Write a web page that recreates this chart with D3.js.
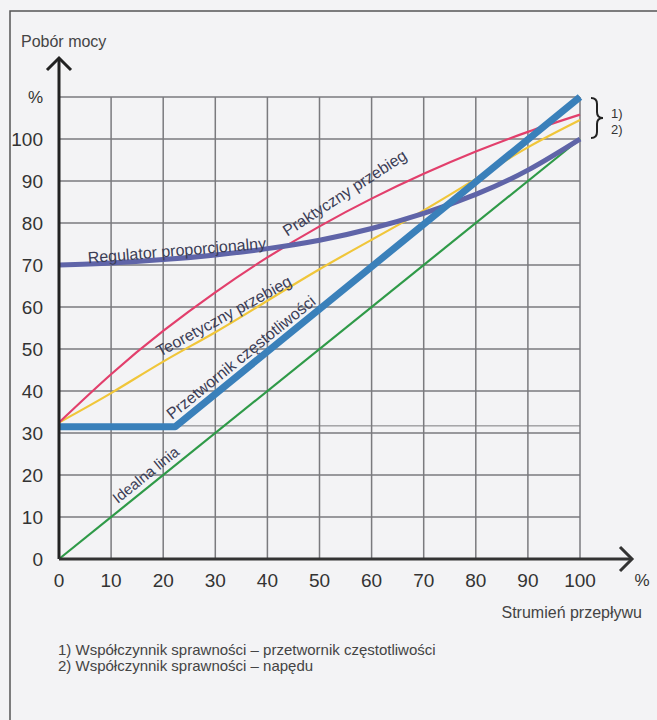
<!DOCTYPE html>
<html>
<head>
<meta charset="utf-8">
<script src="https://cdn.jsdelivr.net/npm/d3@7"></script>
<style>
  body { margin: 0; background: #f3f3f5; }
  text { font-family: "Liberation Sans", Arial, sans-serif; }
</style>
</head>
<body>
<svg id="chart"></svg>
<script>
// data (flow % -> power %)
var flow = [0, 10, 20, 30, 40, 50, 60, 70, 80, 90, 100];
var practical = [32.5, 44, 54.3, 63.5, 71.8, 79.2, 85.8, 91.7, 97, 101.7, 105.8];
var theoretical = [32.5, 39.5, 47, 54, 61.5, 69, 76, 83, 90.5, 98, 104.5];
var regulator = [70, 70.5, 71.3, 72.4, 73.9, 75.9, 78.7, 82.3, 86.8, 92.6, 100];
var converterX = [0, 22.3, 100];
var converterY = [31.5, 31.5, 110];
var idealX = [0, 100];
var idealY = [0, 100];
var xTicks = [0, 10, 20, 30, 40, 50, 60, 70, 80, 90, 100];
var yTicks = [0, 10, 20, 30, 40, 50, 60, 70, 80, 90, 100];
var footnotes = ["1) Współczynnik sprawności – przetwornik częstotliwości",
                 "2) Współczynnik sprawności – napędu"];

var width = 657, height = 720;
var svg = d3.select("#chart").attr("width", width).attr("height", height);

svg.append("rect").attr("width", width).attr("height", height).attr("fill", "#f3f3f5");
// page frame (left + top)
svg.append("path").attr("d", "M10,720V11H657").attr("fill", "none")
   .attr("stroke", "#555").attr("stroke-width", 1.5);

var x = d3.scaleLinear().domain([0, 100]).range([59, 580]);
var y = d3.scaleLinear().domain([0, 100]).range([559, 139]);

// grid
var grid = svg.append("g").attr("stroke", "#7a7a7e").attr("stroke-width", 1.5);
grid.selectAll(".vg").data(xTicks).enter().append("line")
    .attr("x1", d => x(d)).attr("x2", d => x(d))
    .attr("y1", y(0)).attr("y2", y(110));
grid.selectAll(".hg").data(yTicks.concat([110, 31.7])).enter().append("line")
    .attr("x1", x(0)).attr("x2", x(100))
    .attr("y1", d => y(d)).attr("y2", d => y(d))
    .attr("stroke-width", d => d == 31.7 ? 1 : 1.5);

// tick labels
var tickSize = 19;
svg.append("g").selectAll("text").data(yTicks).enter().append("text")
   .attr("x", 43).attr("y", d => y(d)).attr("dy", "0.36em")
   .attr("text-anchor", "end").attr("font-size", tickSize).attr("fill", "#333")
   .text(d => d);
svg.append("text").attr("x", 43).attr("y", y(110)).attr("dy", "0.36em")
   .attr("text-anchor", "end").attr("font-size", 17).attr("fill", "#333").text("%");
svg.append("g").selectAll("text").data(xTicks).enter().append("text")
   .attr("x", d => x(d)).attr("y", 580).attr("dy", "0.36em")
   .attr("text-anchor", "middle").attr("font-size", tickSize).attr("fill", "#333")
   .text(d => d);
svg.append("text").attr("x", 642).attr("y", 580).attr("dy", "0.36em")
   .attr("text-anchor", "middle").attr("font-size", 17).attr("fill", "#333").text("%");

// curves
var line = d3.line().x(d => x(d[0])).y(d => y(d[1]));
var smooth = d3.line().x(d => x(d[0])).y(d => y(d[1])).curve(d3.curveNatural);
var zip = (a, b) => a.map((d, i) => [d, b[i]]);

svg.append("path").datum(zip(idealX, idealY)).attr("d", line)
   .attr("fill", "none").attr("stroke", "#2f9a48").attr("stroke-width", 2.2);
svg.append("path").datum(zip(flow, theoretical)).attr("d", smooth)
   .attr("fill", "none").attr("stroke", "#f0c63a").attr("stroke-width", 2.2);
svg.append("path").datum(zip(flow, practical)).attr("d", smooth)
   .attr("fill", "none").attr("stroke", "#e23f6c").attr("stroke-width", 2.2);
svg.append("path").datum(zip(flow, regulator)).attr("d", smooth)
   .attr("fill", "none").attr("stroke", "#5f64a8").attr("stroke-width", 5);
svg.append("path").datum(zip(converterX, converterY)).attr("d", line)
   .attr("fill", "none").attr("stroke", "#3a80ba").attr("stroke-width", 7)
   .attr("stroke-linejoin", "round");

// axes with arrows
svg.append("path").attr("d", "M" + x(0) + "," + y(0) + "V58")
   .attr("stroke", "#222").attr("stroke-width", 3);
svg.append("path").attr("d", "M47,70L59,58L71,70").attr("fill", "none")
   .attr("stroke", "#222").attr("stroke-width", 3);
svg.append("path").attr("d", "M" + x(0) + "," + y(0) + "H632")
   .attr("stroke", "#333").attr("stroke-width", 3);
svg.append("path").attr("d", "M620,547L632,559L620,571").attr("fill", "none")
   .attr("stroke", "#333").attr("stroke-width", 3);

// labels along curves
var labels = [
  {text: "Regulator proporcjonalny", x: 5.6, y: 70.4, size: 16},
  {text: "Praktyczny przebieg", x: 43.8, y: 76.7, size: 16},
  {text: "Teoretyczny przebieg", x: 19.4, y: 48.1, size: 16},
  {text: "Przetwornik częstotliwości", x: 21.7, y: 33.1, size: 16},
  {text: "Idealna linia", x: 11.3, y: 13.1, size: 15}
];
var angles = [-4.7, -33, -28.5, -38.9, -38.9];
svg.append("g").selectAll("text").data(labels).enter().append("text")
   .attr("transform", (d, i) => "translate(" + x(d.x) + "," + y(d.y) + ") rotate(" + angles[i] + ")")
   .attr("font-size", d => d.size).attr("fill", "#3b3d55")
   .text(d => d.text);

// brace with 1) 2)
svg.append("path")
   .attr("d", "M591,98 Q597,98 597,104 L597,112 Q597,118 603,118 Q597,118 597,124 L597,132 Q597,138 591,138")
   .attr("fill", "none").attr("stroke", "#222").attr("stroke-width", 2);
svg.append("text").attr("x", 611).attr("y", 118).attr("font-size", 13).attr("fill", "#333").text("1)");
svg.append("text").attr("x", 611).attr("y", 134).attr("font-size", 13).attr("fill", "#333").text("2)");

// titles
svg.append("text").attr("x", 21).attr("y", 47).attr("font-size", 16).attr("fill", "#444").text("Pobór mocy");
svg.append("text").attr("x", 642).attr("y", 618).attr("text-anchor", "end")
   .attr("font-size", 16).attr("fill", "#444").text("Strumień przepływu");
svg.append("g").selectAll("text").data(footnotes).enter().append("text")
   .attr("x", 58).attr("y", (d, i) => 655 + i * 16)
   .attr("font-size", 15).attr("fill", "#444").text(d => d);
</script>
</body>
</html>
